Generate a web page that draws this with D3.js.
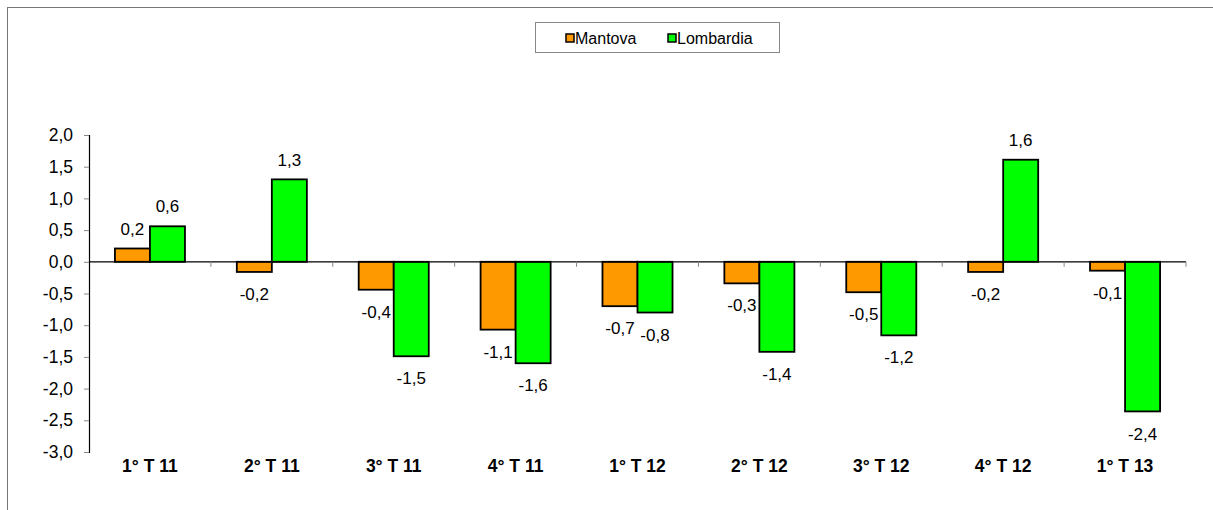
<!DOCTYPE html>
<html>
<head>
<meta charset="utf-8">
<script src="https://cdn.jsdelivr.net/npm/d3@7"></script>
<style>
  body { margin: 0; background: #fff; }
  text { font-family: Arial, "Liberation Sans", sans-serif; }
</style>
</head>
<body>
<div id="chart"></div>
<script>
// data
var categories = ["1° T 11", "2° T 11", "3° T 11", "4° T 11", "1° T 12", "2° T 12", "3° T 12", "4° T 12", "1° T 13"];
var seriesNames = ["Mantova", "Lombardia"];
var mantova   = [0.21, -0.16, -0.44, -1.07, -0.70, -0.34, -0.48, -0.16, -0.14];
var lombardia = [0.56, 1.30, -1.49, -1.60, -0.80, -1.42, -1.16, 1.61, -2.36];
var colours = ["#FF9900", "#00FF00"];
var yTicks = [-3, -2.5, -2, -1.5, -1, -0.5, 0, 0.5, 1, 1.5, 2];
// data

var W = 1213, H = 510;
var plot = {left: 89, right: 1186, top: 135, bottom: 452};

var svg = d3.select("#chart").append("svg")
    .attr("width", W)
    .attr("height", H);

// outer frame
svg.append("rect")
    .attr("x", 7.5).attr("y", 7.5)
    .attr("width", 1230).attr("height", 540)
    .attr("fill", "none")
    .attr("stroke", "#777")
    .attr("stroke-width", 1);

var itLocale = d3.formatLocale({decimal: ",", thousands: ".", grouping: [3], currency: ["", "€"], minus: "-"});
var fmt = itLocale.format(".1f");

//scales
var x = d3.scaleBand().domain(categories).range([plot.left, plot.right]).padding(0);
var xs = d3.scaleBand().domain(seriesNames).range([0, x.bandwidth()]).paddingInner(0).paddingOuter(0.74);
var y = d3.scaleLinear().domain([-3, 2]).range([plot.bottom, plot.top]);
//scales

var rows = [];
categories.forEach(function(c, i){
    rows.push({cat: c, series: "Mantova", value: mantova[i], col: colours[0]});
    rows.push({cat: c, series: "Lombardia", value: lombardia[i], col: colours[1]});
});

// y axis
var yAxis = svg.append("g")
    .attr("transform", `translate(${plot.left},0)`)
    .call(d3.axisLeft(y).tickValues(yTicks).tickSize(5).tickPadding(11).tickFormat(fmt));
yAxis.select(".domain").attr("stroke", "#000").attr("stroke-width", 1.2);
yAxis.selectAll(".tick line").attr("stroke", "#888");
yAxis.selectAll("text")
    .attr("font-size", "17.5px")
    .attr("fill", "#000")
    .attr("font-family", "Arial, 'Liberation Sans', sans-serif");

// bars
svg.selectAll(".bar")
    .data(rows)
    .enter().append("rect")
    .attr("class", "bar")
    .attr("x", function(d){ return x(d.cat) + xs(d.series); })
    .attr("width", xs.bandwidth())
    .attr("y", function(d){ return y(Math.max(0, d.value)); })
    .attr("height", function(d){ return Math.abs(y(d.value) - y(0)); })
    .attr("fill", function(d){ return d.col; })
    .attr("stroke", "#000")
    .attr("stroke-width", 1.8);

// x axis line + ticks at category boundaries
svg.append("line")
    .attr("x1", plot.left).attr("x2", plot.right)
    .attr("y1", y(0)).attr("y2", y(0))
    .attr("stroke", "#000").attr("stroke-width", 1.2);

svg.selectAll(".xtick")
    .data(categories)
    .enter().append("line")
    .attr("class", "xtick")
    .attr("x1", function(d){ return x(d) + x.bandwidth(); })
    .attr("x2", function(d){ return x(d) + x.bandwidth(); })
    .attr("y1", y(0)).attr("y2", y(0) + 5)
    .attr("stroke", "#888");

// category labels
svg.selectAll(".catlabel")
    .data(categories)
    .enter().append("text")
    .attr("class", "catlabel")
    .text(function(d){ return d; })
    .attr("x", function(d){ return x(d) + x.bandwidth() / 2; })
    .attr("y", 472)
    .attr("text-anchor", "middle")
    .attr("font-size", "17.5px")
    .attr("font-weight", "bold");

// value labels
svg.selectAll(".vlabel")
    .data(rows)
    .enter().append("text")
    .attr("class", "vlabel")
    .text(function(d){ return fmt(d.value); })
    .attr("x", function(d){ return x(d.cat) + xs(d.series) + xs.bandwidth() / 2; })
    .attr("y", function(d){ return d.value >= 0 ? y(d.value) - 20 : y(d.value) + 22; })
    .attr("dy", "0.36em")
    .attr("text-anchor", "middle")
    .attr("font-size", "17px")
    .attr("fill", "#000");

// legend
var legend = svg.append("g").attr("class", "legend");
legend.append("rect")
    .attr("x", 535.5).attr("y", 22.5)
    .attr("width", 244).attr("height", 30)
    .attr("fill", "#fff")
    .attr("stroke", "#888");

var legendX = [566, 668];
seriesNames.forEach(function(s, i){
    legend.append("rect")
        .attr("x", legendX[i]).attr("y", 34)
        .attr("width", 8).attr("height", 8)
        .attr("fill", colours[i])
        .attr("stroke", "#000")
        .attr("stroke-width", 1.5);
    legend.append("text")
        .text(s)
        .attr("x", legendX[i] + 9)
        .attr("y", 44)
        .attr("font-size", "16px")
        .attr("fill", "#000");
});
</script>
</body>
</html>
